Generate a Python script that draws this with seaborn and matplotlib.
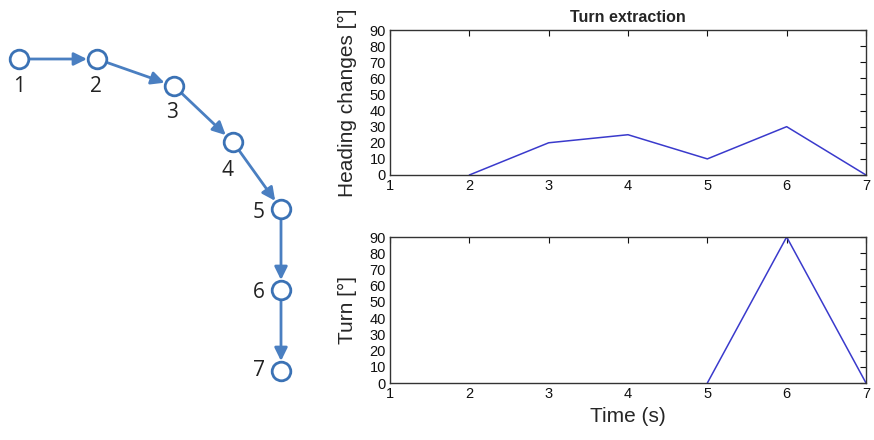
import matplotlib
matplotlib.use("Agg")
import matplotlib.pyplot as plt
import seaborn as sns
import pandas as pd

sns.set_theme(style="white")
plt.rcParams['font.family'] = ['Liberation Sans', 'DejaVu Sans']

# Data
node_labels = ["1", "2", "3", "4", "5", "6", "7"]
node_x = [19, 97, 174, 233, 281, 281, 281]
node_y = [59, 59, 86, 142, 209, 290, 371]
label_x = [19, 96, 172, 227, 259, 259, 259]
label_y = [87, 87, 113, 170, 213, 292, 371]

heading_time = [2, 3, 4, 5, 6, 7]
heading_change = [0, 20, 25, 10, 30, 0]
turn_time = [5, 6, 7]
turn_value = [0, 90, 0]

x_ticks = [1, 2, 3, 4, 5, 6, 7]
y_ticks = [0, 10, 20, 30, 40, 50, 60, 70, 80, 90]

fig = plt.figure(figsize=(8.74, 4.40), dpi=100)

# Left diagram in pixel coordinates
axd = fig.add_axes([0, 0, 330 / 874, 1])
axd.set_xlim(0, 330)
axd.set_ylim(440, 0)
axd.axis("off")
node_col = "#3b72b5"
arrow_col = "#4a7fc1"
r = 9
for i in range(len(node_x) - 1):
    x0, y0, x1, y1 = node_x[i], node_y[i], node_x[i + 1], node_y[i + 1]
    dx, dy = x1 - x0, y1 - y0
    d = (dx ** 2 + dy ** 2) ** 0.5
    ux, uy = dx / d, dy / d
    axd.annotate("", xy=(x1 - ux * (r + 1), y1 - uy * (r + 1)),
                 xytext=(x0 + ux * r, y0 + uy * r),
                 arrowprops=dict(arrowstyle="-|>,head_length=0.65,head_width=0.32",
                                 color=arrow_col, lw=2.0, shrinkA=0, shrinkB=0))
nodes = pd.DataFrame({"x": node_x, "y": node_y})
sns.scatterplot(data=nodes, x="x", y="y", ax=axd, s=180, facecolor="white",
                edgecolor=node_col, linewidth=2.0, zorder=5, legend=False)
for lab, lx, ly in zip(node_labels, label_x, label_y):
    axd.text(lx, ly, lab, ha="center", va="center", fontsize=15, color="#222222",
             family=["Open Sans", "DejaVu Sans"])
axd.set_xlim(0, 330)
axd.set_ylim(440, 0)
axd.axis("off")

line_col = "#3a3acc"

def style(ax):
    ax.set_xlim(1, 7)
    ax.set_ylim(0, 90)
    ax.set_xticks(x_ticks)
    ax.set_yticks(y_ticks)
    ax.tick_params(direction="in", top=True, right=True, length=4, width=0.8,
                   labelsize=10.5, colors="#111111", pad=3)
    for s in ax.spines.values():
        s.set_color("#333333")
        s.set_linewidth(1.0)
    ax.set_xlabel("")

ax1 = fig.add_axes([390 / 874, 1 - 175 / 440, 476 / 874, 145 / 440])
sns.lineplot(x=heading_time, y=heading_change, ax=ax1, color=line_col, lw=1.1)
style(ax1)
ax1.set_ylabel("Heading changes [°]", fontsize=15, labelpad=9)
ax1.set_title("Turn extraction", fontsize=11.5, fontweight="bold", pad=6)

ax2 = fig.add_axes([390 / 874, 1 - 383 / 440, 476 / 874, 146 / 440])
sns.lineplot(x=turn_time, y=turn_value, ax=ax2, color=line_col, lw=1.1)
style(ax2)
ax2.set_ylabel("Turn [°]", fontsize=15, labelpad=9)
ax2.set_xlabel("Time (s)", fontsize=15, labelpad=4)

fig.savefig("out.png", dpi=100, facecolor="white")
